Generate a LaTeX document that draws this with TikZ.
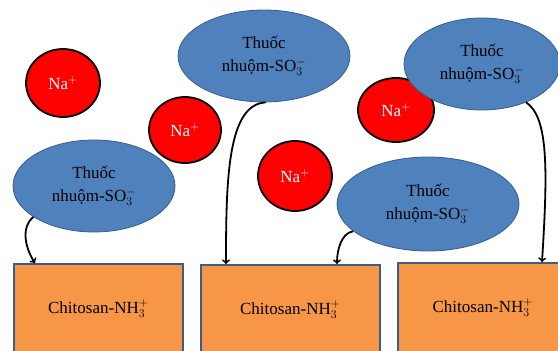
\documentclass[tikz,border=0pt]{standalone}
\usepackage{fontspec}
\setmainfont{Liberation Serif}
\usetikzlibrary{shapes.geometric}

\definecolor{dyeblue}{RGB}{79,129,189}
\definecolor{dyeline}{RGB}{56,93,138}
\definecolor{chitoorange}{RGB}{247,150,70}

\begin{document}
\begin{tikzpicture}[x=1pt, y=-1pt,
        font=\fontsize{17}{23}\selectfont,
        na/.style={ellipse, draw=black, line width=1.8pt, fill=red, text=white, inner sep=0pt},
        dye/.style={ellipse, draw=dyeline, line width=0.8pt, fill=dyeblue, align=center, inner sep=0pt},
        chito/.style={rectangle, draw=dyeline, line width=1.6pt, fill=chitoorange, anchor=north west, minimum height=90pt, inner sep=0pt},
        arr/.style={->, line width=1.8pt, black}]
    \useasboundingbox (0,0) rectangle (558,351);
    \begin{scope}
        \clip (0,0) rectangle (558,351);

        % Na+ ions
        \foreach \i/\x/\y/\w/\h in {1/63/83/74/68, 2/185/130/72/66, 3/396/110/76/64, 4/295/176/74/70} {
            \node[na, minimum width=\w pt, minimum height=\h pt] (na\i) at (\x,\y) {Na$^+$};
        }

        % dye anions
        \node[dye, minimum width=172pt, minimum height=92pt] (th1) at (264,56) {Thuốc\\nhuộm-SO$_3^-$};
        \node[dye, minimum width=156pt, minimum height=92pt] (th2) at (482,64) {Thuốc\\nhuộm-SO$_3^-$};
        \node[dye, minimum width=162pt, minimum height=92pt] (th3) at (94,186) {Thuốc\\nhuộm-SO$_3^-$};
        \node[dye, minimum width=182pt, minimum height=94pt] (th4) at (428,204) {Thuốc\\nhuộm-SO$_3^-$};

        % chitosan blocks
        \node[chito, minimum width=169pt] (ch1) at (13,263) {Chitosan-NH$_3^+$};
        \node[chito, minimum width=179pt] (ch2) at (200,264) {Chitosan-NH$_3^+$};
        \node[chito, minimum width=170pt] (ch3) at (397,262) {Chitosan-NH$_3^+$};

        % binding
        \draw[arr] (th3.207) .. controls +(-14,12) and +(-8,-12) .. ([xshift=22pt]ch1.north west);
        \draw[arr] (th1.272) .. controls +(-38,2) and +(0,-85) .. ([xshift=26pt]ch2.north west);
        \draw[arr] (th4.200) .. controls +(-12,2) and +(0,-14) .. ([xshift=137pt]ch2.north west);
        \draw[arr] (th2.319) .. controls +(22,15) and +(6,-95) .. ([xshift=145pt]ch3.north west);
    \end{scope}
\end{tikzpicture}
\end{document}
